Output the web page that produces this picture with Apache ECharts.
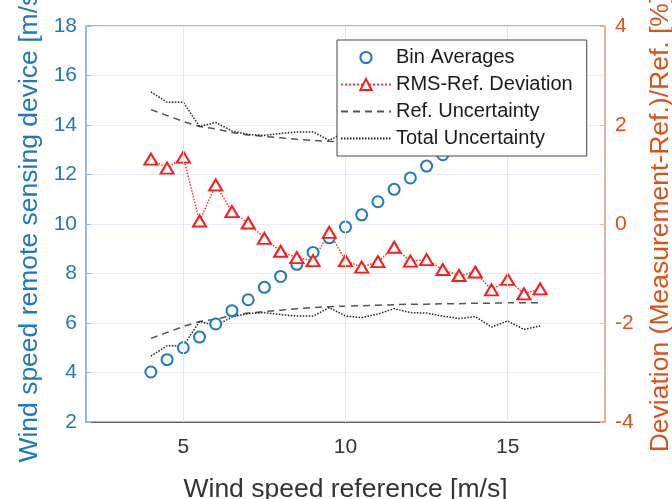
<!DOCTYPE html>
<html>
<head>
<meta charset="utf-8">
<script src="https://cdn.jsdelivr.net/npm/echarts@6/dist/echarts.min.js"></script>
<style>
  html, body { margin: 0; padding: 0; background: #fff; }
  #chart { width: 672px; height: 499px; }
</style>
</head>
<body>
<div id="chart"></div>
<script>
// reference wind speed bins [m/s]
const windRef = [4, 4.5, 5, 5.5, 6, 6.5, 7, 7.5, 8, 8.5, 9, 9.5, 10, 10.5, 11, 11.5, 12, 12.5, 13, 13.5, 14, 14.5, 15, 15.5, 16]
// bin averages of the remote sensing device [m/s]
const binAvg = [4.02, 4.52, 5.0, 5.43, 5.96, 6.5, 6.94, 7.44, 7.88, 8.37, 8.85, 9.44, 9.88, 10.37, 10.9, 11.4, 11.86, 12.34, 12.8, 13.3, 13.78, 14.26, 14.74, 15.22, 15.7]
// deviation [%]
const rmsDev = [1.31, 1.13, 1.35, 0.06, 0.79, 0.25, 0.02, -0.29, -0.55, -0.68, -0.74, -0.17, -0.74, -0.87, -0.76, -0.47, -0.75, -0.72, -0.92, -1.04, -0.97, -1.33, -1.12, -1.41, -1.31]
const refUnc = [2.31, 2.19, 2.07, 1.97, 1.92, 1.85, 1.8, 1.77, 1.74, 1.71, 1.69, 1.67, 1.66, 1.65, 1.64, 1.63, 1.62, 1.62, 1.61, 1.61, 1.6, 1.6, 1.59, 1.59, 1.59]
const totUnc = [2.67, 2.46, 2.46, 1.97, 2.05, 1.88, 1.81, 1.79, 1.83, 1.86, 1.86, 1.69, 1.86, 1.89, 1.82, 1.71, 1.79, 1.8, 1.86, 1.91, 1.87, 2.08, 1.96, 2.13, 2.06]
const xTicks = [5, 10, 15]

const blue = '#1f77bd'
const orange = '#d95319'
const font = "'Liberation Sans', Arial, sans-serif"

const pairs = (ys, sign) => windRef.map((x, i) => [x, sign * ys[i]])

const chart = echarts.init(document.getElementById('chart'))
chart.setOption({
  animation: false,
  textStyle: { fontFamily: font },
  grid: {
    left: 86, top: 26, right: 67, bottom: 77,
    show: true, borderColor: '#666', borderWidth: 1,
    outerBoundsMode: 'none'
  },
  legend: {
    orient: 'vertical',
    left: 337, top: 40,
    z: 10,
    backgroundColor: '#fff',
    borderColor: '#444', borderWidth: 1, borderRadius: 0,
    padding: [7, 14, 7, 3],
    itemGap: 6, itemWidth: 50, itemHeight: 14,
    textStyle: { fontSize: 20, color: '#1a1a1a', fontFamily: font, lineHeight: 21 },
    data: [
      'Bin Averages',
      'RMS-Ref. Deviation',
      { name: 'Ref. Uncertainty', itemStyle: { opacity: 0 } },
      { name: 'Total Uncertainty', itemStyle: { opacity: 0 } }
    ]
  },
  xAxis: {
    type: 'value', min: 2, max: 18, interval: 1,
    name: 'Wind speed reference [m/s]',
    nameLocation: 'middle', nameGap: 54,
    nameTextStyle: { fontSize: 26.5, color: '#333', fontFamily: font },
    axisLine: { onZero: false, lineStyle: { color: '#666' } },
    axisTick: { show: false },
    splitLine: { show: false },
    axisLabel: {
      fontSize: 21, color: '#333', margin: 15,
      formatter: v => (xTicks.includes(v) ? String(v) : '')
    }
  },
  yAxis: [
    {
      type: 'value', min: 2, max: 18, interval: 2,
      name: 'Wind speed remote sensing device [m/s]',
      nameLocation: 'middle', nameGap: 43, nameRotate: 90,
      nameTextStyle: { fontSize: 26.5, color: blue, fontFamily: font },
      axisLine: { show: true, onZero: false, lineStyle: { color: '#8ec0e4', width: 1.5 } },
      axisTick: { show: true, inside: true, length: 5, lineStyle: { color: '#8ec0e4' } },
      axisLabel: { fontSize: 21, color: blue, margin: 9 },
      splitLine: { lineStyle: { color: '#e6eff7', width: 1 } }
    },
    {
      type: 'value', min: -4, max: 4, interval: 2, position: 'right',
      name: 'Deviation (Measurement-Ref.)/Ref. [%]',
      nameLocation: 'middle', nameGap: 42, nameRotate: 90,
      nameTextStyle: { fontSize: 26.5, color: orange, fontFamily: font },
      axisLine: { show: true, onZero: false, lineStyle: { color: '#f2b79a', width: 1.5 } },
      axisTick: { show: true, inside: true, length: 5, lineStyle: { color: '#f2b79a' } },
      axisLabel: { fontSize: 21, color: orange, margin: 10 },
      splitLine: { show: false }
    }
  ],
  series: [
    {
      name: 'Bin Averages',
      type: 'line',
      yAxisIndex: 0,
      data: pairs(binAvg, 1),
      symbol: 'emptyCircle', symbolSize: 11,
      itemStyle: { color: blue, borderWidth: 1.7 },
      lineStyle: { opacity: 0 },
      markLine: {
        silent: true, symbol: 'none', animation: false,
        label: { show: false },
        lineStyle: { color: '#e3e5e9', type: 'solid', width: 1 },
        data: xTicks.map(v => ({ xAxis: v }))
      }
    },
    {
      name: 'RMS-Ref. Deviation',
      type: 'line',
      yAxisIndex: 1,
      data: pairs(rmsDev, 1),
      symbol: 'emptyTriangle', symbolSize: [13, 11],
      itemStyle: { color: '#ff1a1a', borderWidth: 2 },
      lineStyle: { color: '#ff3030', type: 'dotted', width: 1.5 }
    },
    {
      name: 'Ref. Uncertainty',
      type: 'line',
      yAxisIndex: 1,
      data: pairs(refUnc, 1),
      symbol: 'none',
      itemStyle: { color: '#555' },
      lineStyle: { color: '#555', type: [7, 5], width: 1.5 }
    },
    {
      name: 'Total Uncertainty',
      type: 'line',
      yAxisIndex: 1,
      data: pairs(totUnc, 1),
      symbol: 'none',
      itemStyle: { color: '#222' },
      lineStyle: { color: '#222', type: [1.5, 1.5], width: 1.5 }
    },
    {
      name: 'Ref. Uncertainty',
      type: 'line',
      yAxisIndex: 1,
      data: pairs(refUnc, -1),
      symbol: 'none',
      lineStyle: { color: '#555', type: [7, 5], width: 1.5 }
    },
    {
      name: 'Total Uncertainty',
      type: 'line',
      yAxisIndex: 1,
      data: pairs(totUnc, -1),
      symbol: 'none',
      lineStyle: { color: '#222', type: [1.5, 1.5], width: 1.5 }
    }
  ]
})
</script>
</body>
</html>
